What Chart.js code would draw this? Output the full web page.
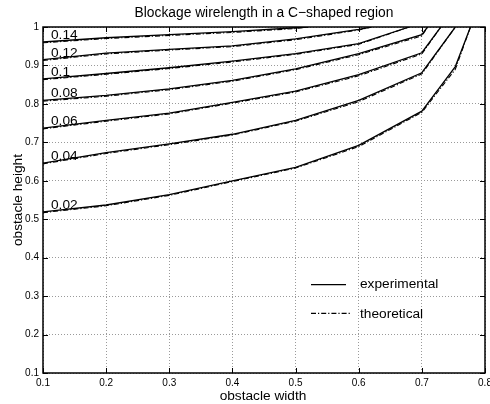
<!DOCTYPE html>
<html><head><meta charset="utf-8">
<script src="https://cdn.jsdelivr.net/npm/chart.js@4.4.1/dist/chart.umd.min.js"></script>
<style>html,body{margin:0;padding:0;background:#fff;}#wrap{width:490px;height:404px;}</style>
</head><body><div id="wrap"><canvas id="c" width="490" height="404"></canvas></div>
<script>
const titleText = 'Blockage wirelength in a C\u2212shaped region';
const xTitle = 'obstacle width';
const yTitle = 'obstacle height';
const xTicks = [0.1,0.2,0.3,0.4,0.5,0.6,0.7,0.8];
const yTicks = [0.1,0.2,0.3,0.4,0.5,0.6,0.7,0.8,0.9,1.0];
const levelLabels = ['0.02','0.04','0.06','0.08','0.1','0.12','0.14'];

// obstacle widths for each curve
const x002 = [0.1,0.2,0.3,0.4,0.5,0.6,0.7,0.753,0.777];
const x004 = [0.1,0.2,0.3,0.4,0.5,0.6,0.7,0.753];
const x006 = [0.1,0.2,0.3,0.4,0.5,0.6,0.7,0.730];
const x008 = [0.1,0.2,0.3,0.4,0.5,0.6,0.7,0.709];
const x010 = [0.1,0.2,0.3,0.4,0.5,0.6,0.68];
const x012 = [0.1,0.2,0.3,0.4,0.5,0.6,0.62];
const x014 = [0.1,0.2,0.3,0.4,0.5,0.52];

// experimental heights
const e002 = [0.519,0.537,0.564,0.600,0.635,0.692,0.781,0.897,1.0];
const e004 = [0.646,0.673,0.696,0.721,0.757,0.809,0.881,1.0];
const e006 = [0.737,0.757,0.776,0.804,0.833,0.876,0.933,1.0];
const e008 = [0.809,0.822,0.839,0.861,0.891,0.931,0.980,1.0];
const e010 = [0.865,0.879,0.894,0.911,0.931,0.957,1.0];
const e012 = [0.915,0.932,0.942,0.951,0.969,0.994,1.0];
const e014 = [0.961,0.972,0.980,0.988,0.998,1.0];

// theoretical heights
const t002 = [0.517,0.535,0.562,0.598,0.633,0.689,0.778,0.890,1.0];
const t004 = [0.644,0.671,0.694,0.719,0.755,0.806,0.878,1.0];
const t006 = [0.735,0.755,0.774,0.802,0.831,0.873,0.930,1.0];
const t008 = [0.807,0.820,0.837,0.859,0.889,0.928,0.977,1.0];
const t010 = [0.863,0.877,0.892,0.909,0.929,0.955,1.0];
const t012 = [0.913,0.930,0.940,0.949,0.967,0.992,1.0];
const t014 = [0.959,0.970,0.978,0.986,0.996,1.0];

const xs = [x002,x004,x006,x008,x010,x012,x014];
const es = [e002,e004,e006,e008,e010,e012,e014];
const ts = [t002,t004,t006,t008,t010,t012,t014];

const FONT = '"Liberation Sans", Arial, Helvetica, sans-serif';
const DASHDOT = [5,2,1.2,2];

const pts = (x, y) => x.map((v, i) => ({x: v, y: y[i]}));
const datasets = [];
xs.forEach((x, i) => {
  datasets.push({label: 'experimental ' + levelLabels[i], data: pts(x, es[i]),
    borderColor: '#000', borderWidth: 1.3, pointRadius: 0, showLine: true, fill: false, tension: 0});
});
xs.forEach((x, i) => {
  datasets.push({label: 'theoretical ' + levelLabels[i], data: pts(x, ts[i]),
    borderColor: '#000', borderWidth: 1.1, borderDash: DASHDOT, pointRadius: 0, showLine: true, fill: false, tension: 0});
});

const fmt = v => String(Math.round(v * 10) / 10);

const decor = {
  id: 'decor',
  afterDatasetsDraw(chart) {
    const {ctx, chartArea: a, scales: {x, y}} = chart;
    ctx.save();
    // frame
    ctx.strokeStyle = '#000';
    ctx.lineWidth = 1.5;
    ctx.setLineDash([]);
    ctx.strokeRect(a.left, a.top, a.right - a.left, a.bottom - a.top);
    // inward ticks
    ctx.lineWidth = 1;
    const tl = 5;
    ctx.beginPath();
    xTicks.forEach(v => {
      const px = Math.round(x.getPixelForValue(v)) + 0.5;
      ctx.moveTo(px, a.bottom); ctx.lineTo(px, a.bottom - tl);
      ctx.moveTo(px, a.top); ctx.lineTo(px, a.top + tl);
    });
    yTicks.forEach(v => {
      const py = Math.round(y.getPixelForValue(v)) + 0.5;
      ctx.moveTo(a.left, py); ctx.lineTo(a.left + tl, py);
      ctx.moveTo(a.right, py); ctx.lineTo(a.right - tl, py);
    });
    ctx.stroke();
    // curve labels
    ctx.fillStyle = '#000';
    ctx.font = '13.7px ' + FONT;
    ctx.textAlign = 'left';
    ctx.textBaseline = 'alphabetic';
    levelLabels.forEach((lab, i) => {
      const px = x.getPixelForValue(xs[i][0]) + 8;
      const py = y.getPixelForValue(es[i][0]) - 3;
      ctx.fillText(lab, px, py);
    });
    // legend
    const lx0 = a.left + 268, lx1 = a.left + 303, tx = a.left + 317;
    const ly1 = y.getPixelForValue(0.33), ly2 = y.getPixelForValue(0.255);
    ctx.lineWidth = 1.2;
    ctx.beginPath(); ctx.moveTo(lx0, ly1); ctx.lineTo(lx1, ly1); ctx.stroke();
    ctx.setLineDash(DASHDOT);
    ctx.beginPath(); ctx.moveTo(lx0, ly2); ctx.lineTo(lx1 + 4, ly2); ctx.stroke();
    ctx.setLineDash([]);
    ctx.textBaseline = 'middle';
    ctx.fillText('experimental', tx, ly1);
    ctx.fillText('theoretical', tx, ly2 + 1);
    // title
    ctx.textAlign = 'center';
    ctx.textBaseline = 'alphabetic';
    ctx.font = '13.8px ' + FONT;
    ctx.fillText(titleText, (a.left + a.right) / 2, 17);
    // axis titles
    ctx.font = '13.7px ' + FONT;
    ctx.fillText(xTitle, (a.left + a.right) / 2 - 1, 400);
    ctx.save();
    ctx.translate(22, (a.top + a.bottom) / 2);
    ctx.rotate(-Math.PI / 2);
    ctx.fillText(yTitle, 0, 0);
    ctx.restore();
    ctx.restore();
  }
};

new Chart(document.getElementById('c'), {
  type: 'scatter',
  data: {datasets},
  options: {
    responsive: false,
    animation: false,
    events: [],
    layout: {padding: {top: 27, right: 5, left: 0, bottom: 0}},
    plugins: {legend: {display: false}, tooltip: {enabled: false}, title: {display: false}},
    scales: {
      x: {
        type: 'linear', min: 0.1, max: 0.8,
        afterBuildTicks: s => { s.ticks = xTicks.map(v => ({value: v})); },
        afterFit: s => { s.height = 31; s.paddingLeft = 0; s.paddingRight = 0; },
        ticks: {callback: v => fmt(v), color: '#000', font: {family: FONT, size: 10}, padding: 4, maxRotation: 0, autoSkip: false},
        grid: {color: '#9a9a9a', lineWidth: 1, drawTicks: false},
        border: {display: false, dash: [1, 2]}
      },
      y: {
        type: 'linear', min: 0.1, max: 1.0,
        afterBuildTicks: s => { s.ticks = yTicks.map(v => ({value: v})); },
        afterFit: s => { s.width = 43; s.paddingTop = 0; s.paddingBottom = 0; },
        ticks: {callback: v => fmt(v), color: '#000', font: {family: FONT, size: 10}, padding: 4, autoSkip: false},
        grid: {color: '#9a9a9a', lineWidth: 1, drawTicks: false},
        border: {display: false, dash: [1, 2]}
      }
    }
  },
  plugins: [decor]
});
</script>
</body></html>
